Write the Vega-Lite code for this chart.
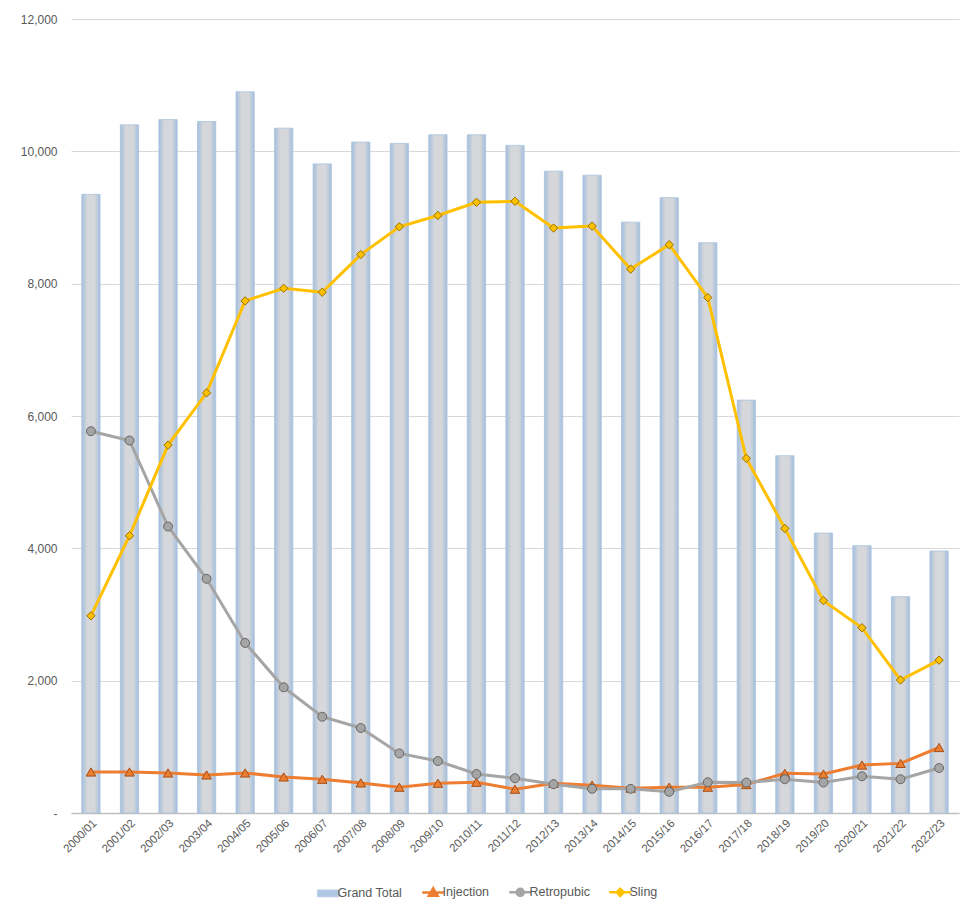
{
  "$schema": "https://vega.github.io/schema/vega-lite/v6.json",
  "autosize": "none",
  "width": 888,
  "height": 794,
  "padding": {"left": 71, "top": 19, "right": 15, "bottom": 97},
  "background": "white",
  "config": {
    "view": {"stroke": null},
    "font": "Liberation Sans",
    "axis": {"labelFont": "Liberation Sans", "labelColor": "#595959", "title": null}
  },
  "data": {
    "values": [
      {"year": "2000/01", "series": "Grand Total", "value": 9350},
      {"year": "2001/02", "series": "Grand Total", "value": 10400},
      {"year": "2002/03", "series": "Grand Total", "value": 10480},
      {"year": "2003/04", "series": "Grand Total", "value": 10450},
      {"year": "2004/05", "series": "Grand Total", "value": 10900},
      {"year": "2005/06", "series": "Grand Total", "value": 10350},
      {"year": "2006/07", "series": "Grand Total", "value": 9810},
      {"year": "2007/08", "series": "Grand Total", "value": 10140},
      {"year": "2008/09", "series": "Grand Total", "value": 10120},
      {"year": "2009/10", "series": "Grand Total", "value": 10250},
      {"year": "2010/11", "series": "Grand Total", "value": 10250},
      {"year": "2011/12", "series": "Grand Total", "value": 10090},
      {"year": "2012/13", "series": "Grand Total", "value": 9700},
      {"year": "2013/14", "series": "Grand Total", "value": 9640},
      {"year": "2014/15", "series": "Grand Total", "value": 8930},
      {"year": "2015/16", "series": "Grand Total", "value": 9300},
      {"year": "2016/17", "series": "Grand Total", "value": 8620},
      {"year": "2017/18", "series": "Grand Total", "value": 6240},
      {"year": "2018/19", "series": "Grand Total", "value": 5400},
      {"year": "2019/20", "series": "Grand Total", "value": 4230},
      {"year": "2020/21", "series": "Grand Total", "value": 4040},
      {"year": "2021/22", "series": "Grand Total", "value": 3270},
      {"year": "2022/23", "series": "Grand Total", "value": 3960},
      {"year": "2000/01", "series": "Injection", "value": 620},
      {"year": "2001/02", "series": "Injection", "value": 620},
      {"year": "2002/03", "series": "Injection", "value": 605},
      {"year": "2003/04", "series": "Injection", "value": 575},
      {"year": "2004/05", "series": "Injection", "value": 605},
      {"year": "2005/06", "series": "Injection", "value": 545},
      {"year": "2006/07", "series": "Injection", "value": 510},
      {"year": "2007/08", "series": "Injection", "value": 455},
      {"year": "2008/09", "series": "Injection", "value": 390},
      {"year": "2009/10", "series": "Injection", "value": 450},
      {"year": "2010/11", "series": "Injection", "value": 465},
      {"year": "2011/12", "series": "Injection", "value": 360},
      {"year": "2012/13", "series": "Injection", "value": 450},
      {"year": "2013/14", "series": "Injection", "value": 420},
      {"year": "2014/15", "series": "Injection", "value": 375},
      {"year": "2015/16", "series": "Injection", "value": 390},
      {"year": "2016/17", "series": "Injection", "value": 390},
      {"year": "2017/18", "series": "Injection", "value": 430},
      {"year": "2018/19", "series": "Injection", "value": 600},
      {"year": "2019/20", "series": "Injection", "value": 590},
      {"year": "2020/21", "series": "Injection", "value": 725},
      {"year": "2021/22", "series": "Injection", "value": 750},
      {"year": "2022/23", "series": "Injection", "value": 990},
      {"year": "2000/01", "series": "Retropubic", "value": 5770},
      {"year": "2001/02", "series": "Retropubic", "value": 5630},
      {"year": "2002/03", "series": "Retropubic", "value": 4330},
      {"year": "2003/04", "series": "Retropubic", "value": 3540},
      {"year": "2004/05", "series": "Retropubic", "value": 2570},
      {"year": "2005/06", "series": "Retropubic", "value": 1900},
      {"year": "2006/07", "series": "Retropubic", "value": 1455},
      {"year": "2007/08", "series": "Retropubic", "value": 1285},
      {"year": "2008/09", "series": "Retropubic", "value": 900},
      {"year": "2009/10", "series": "Retropubic", "value": 785},
      {"year": "2010/11", "series": "Retropubic", "value": 590},
      {"year": "2011/12", "series": "Retropubic", "value": 525},
      {"year": "2012/13", "series": "Retropubic", "value": 435},
      {"year": "2013/14", "series": "Retropubic", "value": 365},
      {"year": "2014/15", "series": "Retropubic", "value": 365},
      {"year": "2015/16", "series": "Retropubic", "value": 320},
      {"year": "2016/17", "series": "Retropubic", "value": 465},
      {"year": "2017/18", "series": "Retropubic", "value": 460},
      {"year": "2018/19", "series": "Retropubic", "value": 510},
      {"year": "2019/20", "series": "Retropubic", "value": 460},
      {"year": "2020/21", "series": "Retropubic", "value": 555},
      {"year": "2021/22", "series": "Retropubic", "value": 510},
      {"year": "2022/23", "series": "Retropubic", "value": 680},
      {"year": "2000/01", "series": "Sling", "value": 2980},
      {"year": "2001/02", "series": "Sling", "value": 4190},
      {"year": "2002/03", "series": "Sling", "value": 5560},
      {"year": "2003/04", "series": "Sling", "value": 6350},
      {"year": "2004/05", "series": "Sling", "value": 7740},
      {"year": "2005/06", "series": "Sling", "value": 7930},
      {"year": "2006/07", "series": "Sling", "value": 7870},
      {"year": "2007/08", "series": "Sling", "value": 8440},
      {"year": "2008/09", "series": "Sling", "value": 8860},
      {"year": "2009/10", "series": "Sling", "value": 9030},
      {"year": "2010/11", "series": "Sling", "value": 9230},
      {"year": "2011/12", "series": "Sling", "value": 9245},
      {"year": "2012/13", "series": "Sling", "value": 8840},
      {"year": "2013/14", "series": "Sling", "value": 8870},
      {"year": "2014/15", "series": "Sling", "value": 8220},
      {"year": "2015/16", "series": "Sling", "value": 8590},
      {"year": "2016/17", "series": "Sling", "value": 7790},
      {"year": "2017/18", "series": "Sling", "value": 5360},
      {"year": "2018/19", "series": "Sling", "value": 4300},
      {"year": "2019/20", "series": "Sling", "value": 3210},
      {"year": "2020/21", "series": "Sling", "value": 2800},
      {"year": "2021/22", "series": "Sling", "value": 2010},
      {"year": "2022/23", "series": "Sling", "value": 2310}
    ]
  },
  "encoding": {
    "x": {
      "field": "year",
      "type": "ordinal",
      "scale": {"paddingInner": 0.526, "paddingOuter": 0.28},
      "axis": {
        "labelAngle": -45,
        "labelFontSize": 11.5,
        "labelPadding": 4,
        "ticks": false,
        "domainColor": "#bfbfbf",
        "domainWidth": 1.5,
        "grid": false
      }
    },
    "y": {
      "field": "value",
      "type": "quantitative",
      "scale": {"domain": [0, 12000], "nice": false},
      "axis": {
        "values": [0, 2000, 4000, 6000, 8000, 10000, 12000],
        "labelExpr": "datum.value === 0 ? '-' : format(datum.value, ',')",
        "labelFontSize": 12,
        "labelPadding": 14,
        "domain": false,
        "ticks": false,
        "gridColor": "#d9d9d9",
        "gridWidth": 1
      }
    }
  },
  "layer": [
    {
      "transform": [{"filter": "datum.series === 'Grand Total'"}],
      "mark": {
        "type": "bar",
        "stroke": "#a9c3e0",
        "strokeWidth": 0.8,
        "fill": {
          "gradient": "linear",
          "x1": 0, "x2": 1, "y1": 0, "y2": 0,
          "stops": [
            {"offset": 0, "color": "#a3bedd"},
            {"offset": 0.3, "color": "#d5d7da"},
            {"offset": 0.7, "color": "#d5d7da"},
            {"offset": 1, "color": "#a3bedd"}
          ]
        }
      }
    },
    {
      "transform": [{"filter": "datum.series !== 'Grand Total'"}],
      "mark": {"type": "line", "strokeWidth": 3},
      "encoding": {
        "color": {
          "field": "series",
          "type": "nominal",
          "scale": {
            "domain": ["Grand Total", "Injection", "Retropubic", "Sling"],
            "range": ["#b0c8e4", "#ed7d31", "#a5a5a5", "#ffc000"]
          },
          "legend": {
            "title": null,
            "orient": "none",
            "direction": "horizontal",
            "legendX": 251,
            "legendY": 867,
            "labelFont": "Liberation Sans",
            "labelFontSize": 12.5,
            "labelColor": "#595959",
            "symbolSize": 480,
            "labelOffset": 3,
            "columnPadding": 14,
            "encode": {
              "symbols": {
                "update": {
                  "shape": {"signal": "datum.value === 'Grand Total' ? 'M-1,-0.32H1V0.32H-1Z' : datum.value === 'Injection' ? 'M-1,0H1M0,-0.38L0.4,0.3L-0.4,0.3Z' : datum.value === 'Retropubic' ? 'M-1,0H-0.32M0.32,0H1M0.32,0A0.32,0.32,0,1,1,-0.32,0A0.32,0.32,0,1,1,0.32,0Z' : 'M-1,0H1M0,-0.32L0.32,0L0,0.32L-0.32,0Z'"},
                  "fill": {"signal": "scale('color', datum.value)"},
                  "stroke": {"signal": "datum.value === 'Grand Total' ? '#a3bedd' : scale('color', datum.value)"},
                  "strokeWidth": {"signal": "datum.value === 'Grand Total' ? 0.5 : 2.5"},
                  "opacity": {"value": 1}
                }
              }
            }
          }
        }
      }
    },
    {
      "transform": [{"filter": "datum.series !== 'Grand Total'"}],
      "mark": {"type": "point", "filled": true, "opacity": 1, "strokeWidth": 1},
      "encoding": {
        "color": {"field": "series", "type": "nominal"},
        "stroke": {
          "field": "series",
          "type": "nominal",
          "scale": {
            "domain": ["Injection", "Retropubic", "Sling"],
            "range": ["#a2501a", "#666666", "#947000"]
          },
          "legend": null
        },
        "shape": {
          "field": "series",
          "type": "nominal",
          "scale": {
            "domain": ["Injection", "Retropubic", "Sling"],
            "range": ["triangle-up", "circle", "diamond"]
          },
          "legend": null
        },
        "size": {
          "field": "series",
          "type": "nominal",
          "scale": {
            "domain": ["Injection", "Retropubic", "Sling"],
            "range": [90, 70, 55]
          },
          "legend": null
        }
      }
    }
  ]
}
